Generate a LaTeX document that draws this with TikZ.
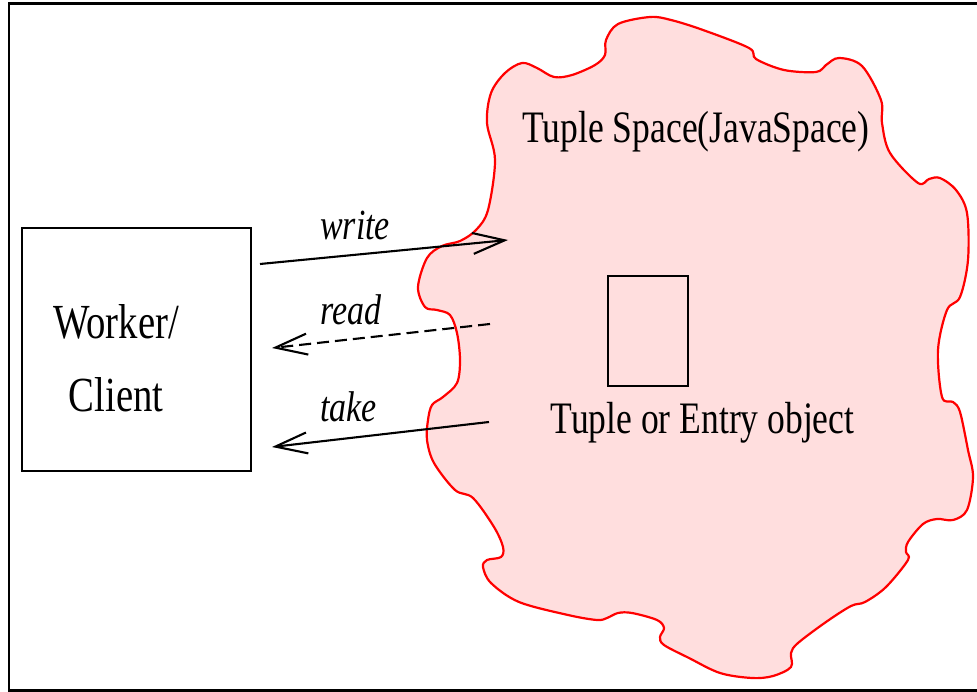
\documentclass[tikz,border=0pt]{standalone}
\usepackage{fontspec}
\setmainfont{Liberation Serif}
\usetikzlibrary{arrows.meta}
\definecolor{cloudfill}{RGB}{255,222,222}
\definecolor{cloudline}{RGB}{255,0,0}
% condensed serif lettering
\newcommand{\condensed}[1]{\scalebox{0.79}[1]{#1}}

\begin{document}
\begin{tikzpicture}[x=1pt,y=-1pt,
  frameline/.style={line width=2.6pt},
  boxshape/.style={draw=black, line width=2.1pt, inner sep=0pt, fill=none},
  bigtext/.style={inner sep=0pt, font=\fontsize{45}{54}\selectfont},
  clienttext/.style={inner sep=0pt, align=center, font=\fontsize{49}{73}\selectfont},
  oplabel/.style={inner sep=0pt, anchor=base west, font=\fontsize{43}{50}\selectfont\itshape},
  oparrow/.style={line width=2.1pt, -{Straight Barb[length=32pt,width=21pt,line width=2.1pt]}}
]
\useasboundingbox (0,0) rectangle (977,692);

% outer frame (its right side lies beyond the page)
\draw[frameline] (1000,690.5) -- (9,690.5) -- (9,3.5) -- (1000,3.5);

% the tuple space cloud
\draw[cloudline, fill=cloudfill, line width=2.2pt, line join=round]
  plot[smooth cycle, tension=0.55] coordinates {
  (418,287) (427,258) (442,246) (460,241) (476,230) (488,210) (495,160)
  (487,123) (491,93) (505,73) (522,63) (537,68) (554,77) (572,75)
  (595,65) (605,55) (606,40) (618,24) (650,17) (671,20) (703,30)
  (749,48) (756,59) (784,70) (816,72) (826,65) (839,58) (862,66)
  (881,100) (882,123) (890,153) (918,183) (929,179) (940,178) (956,190)
  (967,213) (968,260) (960,297) (947,310) (938,350) (942,397) (953,402)
  (960,412) (968,450) (973,477) (967,510) (953,520) (937,519) (923,524)
  (908,542) (906,552) (908,560) (886,587) (865,602) (851,606) (826,622)
  (798,643) (791,653) (791,667) (773,676) (752,678) (720,673) (689,658)
  (664,645) (660,637) (664,628) (657,620) (632,613) (618,613) (607,618)
  (597,620) (568,615) (519,602) (491,583) (483,567) (487,560) (501,557)
  (503,547) (494,527) (473,498) (455,490) (434,463) (427,440) (428,420)
  (432,405) (443,397) (457,383) (460,360) (457,333) (450,315) (437,310)
  (425,307)};

% worker / client box
\node[boxshape, minimum width=229pt, minimum height=243pt] (client) at (136.5,349.5) {};
\node[clienttext] (clientname) at (116,358) {\condensed{Worker/}\\\condensed{Client}};

% tuple (entry) object
\node[boxshape, minimum width=80pt, minimum height=110pt] (entry) at (648,331) {};
\node[bigtext, anchor=base] (entryname) at (702.5,433) {\condensed{Tuple or Entry object}};
\node[bigtext, anchor=base] (spacename) at (696,143) {\condensed{Tuple Space(JavaSpace)}};

% operation end points
\coordinate (writefrom) at (260,264);
\coordinate (writeto) at (508,240);
\coordinate (readfrom) at (490,324);
\coordinate (readto) at (272,348);
\coordinate (takefrom) at (489,422);
\coordinate (taketo) at (272,447);

\draw[oparrow] (writefrom) -- (writeto);
\draw[oparrow, dash pattern=on 12pt off 6pt] (readfrom) -- (readto);
\draw[oparrow] (takefrom) -- (taketo);

\node[oplabel] (writelabel) at (320,240) {\condensed{write}};
\node[oplabel] (readlabel) at (320,325) {\condensed{read}};
\node[oplabel] (takelabel) at (320,421) {\condensed{take}};
\end{tikzpicture}
\end{document}
